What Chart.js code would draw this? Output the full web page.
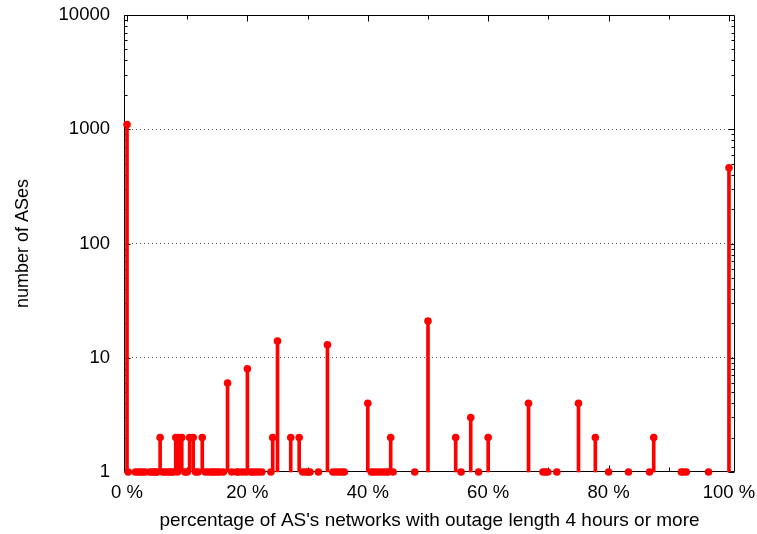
<!DOCTYPE html>
<html>
<head>
<meta charset="utf-8">
<script src="https://cdn.jsdelivr.net/npm/chart.js@4/dist/chart.umd.min.js"></script>
<style>
html,body{margin:0;padding:0;background:#fff;}
#c{display:block;}
</style>
</head>
<body>
<canvas id="c" width="757" height="534"></canvas>
<script>
// percentage of AS's networks with outage length >= 4h
const pctValues = [
  0, 0.2, 1.4, 1.8, 2.2, 2.6, 3.0, 3.8, 4.2, 4.5, 4.8, 5.0, 5.5,
  5.9, 6.3, 6.7, 7.1, 7.4, 7.7, 8.1, 8.4, 8.6, 9.1, 9.6, 10.0, 10.4, 11.0,
  11.4, 11.8, 12.5, 13.0, 13.5, 14.0, 14.3, 14.7, 15.0, 15.4, 16.0, 16.7,
  17.4, 18.2, 18.6, 19.2, 19.8, 20.0, 20.6, 21.0, 21.4, 21.9, 22.4,
  23.9, 24.2, 25.0, 27.2, 28.6, 29.2, 29.7, 30.1, 30.4, 31.8, 33.3,
  34.2, 34.7, 35.2, 35.7, 36.1, 40.0, 40.6, 41.0, 41.5, 42.0, 42.5, 43.0, 43.4,
  43.8, 44.2, 47.8, 50.0, 54.6, 55.5, 57.1, 58.4, 60.0, 66.7,
  69.1, 69.5, 69.9, 71.4, 75.0, 77.8, 80.0, 83.3, 86.8, 87.5,
  92.1, 92.4, 92.9, 96.6, 100
];
// number of ASes at each percentage
const asCounts = [
  1100, 1, 1, 1, 1, 1, 1, 1, 1, 1, 1, 1, 2,
  1, 1, 1, 1, 1, 1, 2, 1, 2, 2, 1, 1, 2, 2,
  1, 1, 2, 1, 1, 1, 1, 1, 1, 1, 1, 6,
  1, 1, 1, 1, 1, 8, 1, 1, 1, 1, 1,
  1, 2, 14, 2, 2, 1, 1, 1, 1, 1, 13,
  1, 1, 1, 1, 1, 4, 1, 1, 1, 1, 1, 1, 1,
  2, 1, 1, 21, 2, 1, 3, 1, 2, 4,
  1, 1, 1, 1, 4, 2, 1, 1, 1, 2,
  1, 1, 1, 1, 460
];
const xTickValues = [0, 20, 40, 60, 80, 100];
const xMinorTickValues = [10, 30, 50, 70, 90];
const yTickValues = [1, 10, 100, 1000, 10000];
const yGridValues = [10, 100, 1000];

const FONT = "'Liberation Sans', Arial, Helvetica, sans-serif";
const RED = '#ff0000';

const framePlugin = {
  id: 'frame',
  beforeDatasetsDraw(chart) {
    const {ctx, chartArea: a, scales: {x, y}} = chart;
    ctx.save();
    ctx.strokeStyle = '#000';
    ctx.lineWidth = 1;
    ctx.beginPath();
    const L = Math.round(a.left) + 0.5, R = Math.round(a.right) - 0.5;
    const T = Math.round(a.top) + 0.5, B = Math.round(a.bottom) - 0.5;
    ctx.rect(L, T, R - L, B - T);
    const xt = (v, len) => {
      const px = Math.round(x.getPixelForValue(v)) + 0.5;
      ctx.moveTo(px, B); ctx.lineTo(px, B - len);
      ctx.moveTo(px, T); ctx.lineTo(px, T + len);
    };
    xTickValues.forEach(v => xt(v, 6));
    xMinorTickValues.forEach(v => xt(v, 4));
    const yt = (v, len) => {
      const py = Math.round(y.getPixelForValue(v)) + 0.5;
      ctx.moveTo(L, py); ctx.lineTo(L + len, py);
      ctx.moveTo(R, py); ctx.lineTo(R - len, py);
    };
    yTickValues.forEach(v => yt(v, 6));
    for (let d = 1; d < 10000; d *= 10) {
      for (let m = 2; m <= 9; m++) yt(m * d, 3);
    }
    ctx.stroke();
    ctx.restore();
  }
};

new Chart(document.getElementById('c'), {
  type: 'scatter',
  data: {
    datasets: [
      {
        type: 'bar',
        data: pctValues.map((p, i) => ({x: p, y: [1, asCounts[i]]})),
        backgroundColor: RED,
        borderWidth: 0,
        barThickness: 3,
        grouped: false,
        clip: false
      },
      {
        type: 'scatter',
        data: pctValues.map((p, i) => ({x: p, y: asCounts[i]})),
        backgroundColor: RED,
        borderColor: RED,
        borderWidth: 0,
        pointRadius: 3.8,
        pointHoverRadius: 3.8,
        showLine: false,
        clip: false
      }
    ]
  },
  options: {
    responsive: false,
    animation: false,
    events: [],
    layout: {padding: {top: 15, right: 22, left: 0, bottom: 0}},
    plugins: {legend: {display: false}, tooltip: {enabled: false}},
    scales: {
      x: {
        type: 'linear',
        min: -0.5,
        max: 101,
        offset: false,
        afterBuildTicks: s => { s.ticks = xTickValues.map(v => ({value: v})); },
        afterFit: s => { s.height = 62; s.paddingLeft = 0; s.paddingRight = 0; },
        ticks: {
          callback: v => v + ' %',
          font: {family: FONT, size: 18.5},
          color: '#000',
          padding: 10,
          maxRotation: 0,
          autoSkip: false
        },
        grid: {display: false, drawTicks: false, tickLength: 0},
        border: {display: false},
        title: {
          display: true,
          text: "percentage of AS's networks with outage length 4 hours or more",
          font: {family: FONT, size: 19},
          color: '#000',
          padding: {top: 0, bottom: 2}
        }
      },
      y: {
        type: 'logarithmic',
        min: 1,
        max: 10000,
        afterBuildTicks: s => { s.ticks = yTickValues.map(v => ({value: v})); },
        afterFit: s => { s.width = 124; s.paddingTop = 0; s.paddingBottom = 0; },
        ticks: {
          callback: v => String(v),
          font: {family: FONT, size: 18.5},
          color: '#000',
          padding: 14,
          autoSkip: false
        },
        grid: {
          drawTicks: false,
          tickLength: 0,
          lineWidth: 1,
          color: c => (c.tick && yGridValues.includes(c.tick.value)) ? '#555' : 'rgba(0,0,0,0)'
        },
        border: {display: false, dash: [1, 3]},
        title: {
          display: true,
          text: 'number of ASes',
          font: {family: FONT, size: 18},
          color: '#000',
          padding: {top: 12, bottom: 0}
        }
      }
    }
  },
  plugins: [framePlugin]
});
</script>
</body>
</html>
